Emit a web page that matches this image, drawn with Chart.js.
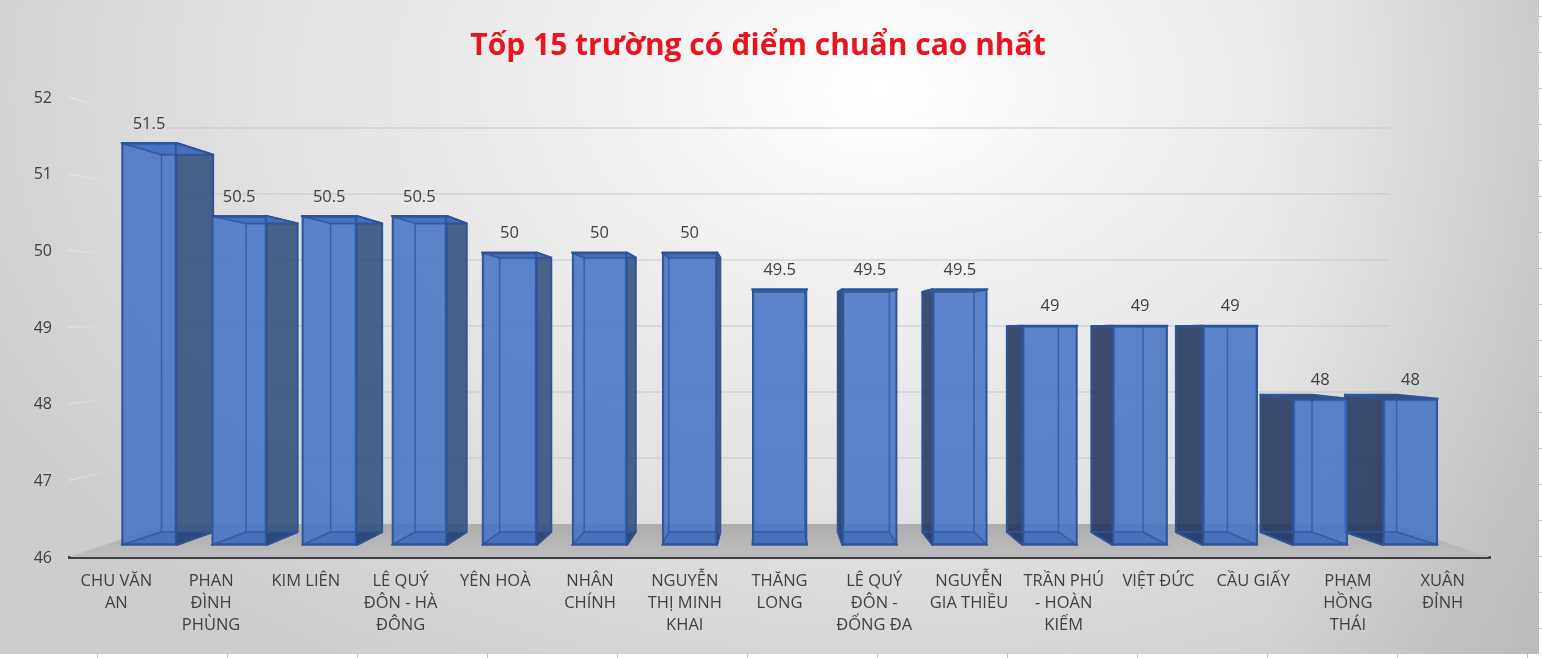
<!DOCTYPE html>
<html>
<head>
<meta charset="utf-8">
<title>Tốp 15 trường có điểm chuẩn cao nhất</title>
<script src="https://cdn.jsdelivr.net/npm/chart.js@4"></script>
<style>
  html, body { margin:0; padding:0; background:#fff; }
  #wrap { position:relative; width:1542px; height:658px; overflow:hidden; background:#fff; }
  #sheet { position:absolute; left:0; top:0; width:1539px; height:654px;
    background:
      linear-gradient(to right,rgba(0,0,0,0) 82%,rgba(0,0,0,.09) 100%),
      radial-gradient(ellipse 1000px 680px at 880px 90px,#ffffff 0%,#f2f2f2 25%,#e2e2e2 60%,#cdcdcd 100%); }
  canvas { position:absolute; left:0; top:0; }
</style>
</head>
<body>
<div id="wrap">
  <div id="sheet"></div>
  <canvas id="chart" width="1542" height="658"></canvas>
</div>
<script>
const categories = [
  ['CHU VĂN','AN'], ['PHAN','ĐÌNH','PHÙNG'], ['KIM LIÊN'], ['LÊ QUÝ','ĐÔN - HÀ','ĐÔNG'], ['YÊN HOÀ'],
  ['NHÂN','CHÍNH'], ['NGUYỄN','THỊ MINH','KHAI'], ['THĂNG','LONG'], ['LÊ QUÝ','ĐÔN -','ĐỐNG ĐA'], ['NGUYỄN','GIA THIỀU'],
  ['TRẦN PHÚ','- HOÀN','KIẾM'], ['VIỆT ĐỨC'], ['CẦU GIẤY'], ['PHẠM','HỒNG','THÁI'], ['XUÂN','ĐỈNH']
];
const scores = [51.5, 50.5, 50.5, 50.5, 50, 50, 50, 49.5, 49.5, 49.5, 49, 49, 49, 48, 48];
const axisTicks = [46, 47, 48, 49, 50, 51, 52];
const titleText = 'Tốp 15 trường có điểm chuẩn cao nhất';

// vanishing point of the fake 3D, and how far back the bars / the wall sit
const VX = 769, VY = 335, BAR_DEPTH = 0.0618;
const WALL_VY = 320, WALL_DEPTH = 0.139;
const backX = (x) => x + BAR_DEPTH * (VX - x);
const backY = (y) => y + BAR_DEPTH * (VY - y);

function poly(ctx, pts, fill, stroke, lw) {
  ctx.beginPath();
  pts.forEach((p, i) => i ? ctx.lineTo(p[0], p[1]) : ctx.moveTo(p[0], p[1]));
  ctx.closePath();
  if (fill) { ctx.fillStyle = fill; ctx.fill(); }
  if (stroke) { ctx.strokeStyle = stroke; ctx.lineWidth = lw || 1; ctx.stroke(); }
}
function line(ctx, x1, y1, x2, y2, color, lw) {
  ctx.beginPath(); ctx.moveTo(x1, y1); ctx.lineTo(x2, y2);
  ctx.strokeStyle = color; ctx.lineWidth = lw; ctx.stroke();
}

const wallPlugin = {
  id: 'wall',
  beforeDatasetsDraw(chart) {
    const { ctx, chartArea: a, scales } = chart;
    const y = scales.y;
    const wx = (x) => x + WALL_DEPTH * (VX - x);
    const wy = (p) => p + WALL_DEPTH * (WALL_VY - p);
    ctx.save();
    // back wall grid + the faint bit on the left wall, it fades out quickly
    const fade = ctx.createLinearGradient(a.left, 0, a.left + 40, 0);
    fade.addColorStop(0, 'rgba(240,240,240,.55)');
    fade.addColorStop(1, 'rgba(240,240,240,0)');
    axisTicks.slice(1).forEach(t => {
      const p = y.getPixelForValue(t);
      line(ctx, wx(a.left), wy(p), wx(a.right), wy(p), 'rgba(190,190,190,.5)', 1.5);
      line(ctx, a.left, p, wx(a.left), wy(p), fade, 1.5);
    });
    // floor
    const p0 = y.getPixelForValue(axisTicks[0]);
    const floor = ctx.createLinearGradient(0, wy(p0), 0, p0);
    floor.addColorStop(0, '#adadad');
    floor.addColorStop(1, '#bdbdbd');
    poly(ctx, [[a.left, p0], [a.right, p0], [wx(a.right), wy(p0)], [wx(a.left), wy(p0)]], floor);
    ctx.restore();
  }
};

const boxPlugin = {
  id: 'box3d',
  // back half of each box goes under the front face the library draws
  beforeDatasetsDraw(chart) {
    const { ctx } = chart;
    ctx.save();
    ctx.lineJoin = 'round';
    chart.getDatasetMeta(0).data.forEach(bar => {
      const l = bar.x - bar.width / 2, r = bar.x + bar.width / 2, t = bar.y, b = bar.base;
      const edge = '#2f5597';
      if (backX(r) > r) {
        poly(ctx, [[r, t], [backX(r), backY(t)], [backX(r), backY(b)], [r, b]], 'rgba(50,78,124,.88)', edge, 2);
      }
      if (backX(l) < l) {
        poly(ctx, [[l, t], [backX(l), backY(t)], [backX(l), backY(b)], [l, b]], 'rgba(28,48,90,.85)', edge, 2);
      }
      const lower = backY(t) < t; // low bars: we look at the underside of the lid
      poly(ctx, [[l, t], [r, t], [backX(r), backY(t)], [backX(l), backY(t)]], lower ? 'rgba(36,62,112,.9)' : 'rgba(68,114,196,.9)', edge, 2);
      poly(ctx, [[l, b], [r, b], [backX(r), backY(b)], [backX(l), backY(b)]], 'rgba(40,66,116,.7)', edge, 1.5);
    });
    ctx.restore();
  },
  afterDatasetsDraw(chart) {
    const { ctx } = chart;
    ctx.save();
    ctx.font = '16.5px "Open Sans", "Noto Sans", sans-serif';
    ctx.textAlign = 'center';
    ctx.textBaseline = 'middle';
    chart.getDatasetMeta(0).data.forEach((bar, i) => {
      const l = bar.x - bar.width / 2, r = bar.x + bar.width / 2, t = bar.y, b = bar.base;
      const seen = 'rgba(47,85,151,.75)';
      // hidden edges showing through the glass
      const inner = backX(r) > r ? backX(l) : backX(r);
      line(ctx, inner, backY(t), inner, backY(b), seen, 1.5);
      line(ctx, backX(l), backY(b), backX(r), backY(b), seen, 1.5);
      line(ctx, backX(l), backY(t), backX(r), backY(t), seen, 1.5);
      line(ctx, backX(r) > r ? l : r, t, inner, backY(t), seen, 1.5);
      line(ctx, backX(r) > r ? l : r, b, inner, backY(b), seen, 1.5);
      ctx.fillStyle = '#404040';
      ctx.fillText(String(scores[i]), bar.x, t - 19);
    });
    ctx.restore();
  }
};

// cell lines of the spreadsheet peeking out behind the screenshot
const sheetEdgePlugin = {
  id: 'sheetEdge',
  beforeDraw(chart) {
    const { ctx } = chart;
    ctx.save();
    ctx.strokeStyle = '#c8c8c8';
    ctx.lineWidth = 1;
    for (let x = 97; x < 1542; x += 130) { ctx.beginPath(); ctx.moveTo(x + .5, 654); ctx.lineTo(x + .5, 658); ctx.stroke(); }
    for (let y = 16; y < 658; y += 36) { ctx.beginPath(); ctx.moveTo(1539, y + .5); ctx.lineTo(1542, y + .5); ctx.stroke(); }
    ctx.restore();
  }
};

const labelFont = { family: '"Open Sans", "Noto Sans", sans-serif', size: 16.5, lineHeight: 22 / 16.5 };

new Chart(document.getElementById('chart'), {
  type: 'bar',
  data: {
    labels: categories,
    datasets: [{
      data: scores.map((v, i) => ({ x: i, y: v })),
      xAxisID: 'xBars',
      yAxisID: 'yFront',
      base: 46,
      barThickness: 55,
      backgroundColor: 'rgba(68,114,196,.86)',
      borderColor: '#2f5597',
      borderWidth: 2,
      borderSkipped: false
    }]
  },
  options: {
    responsive: false,
    animation: false,
    layout: { padding: { right: 26 } },
    plugins: {
      legend: { display: false },
      tooltip: { enabled: false },
      title: {
        display: true,
        text: titleText,
        color: '#e8141f',
        font: { family: '"Open Sans", "Noto Sans", sans-serif', size: 30, weight: 'bold', lineHeight: 1.2 },
        padding: { top: 28, bottom: 33 }
      }
    },
    scales: {
      x: {
        type: 'category',
        position: 'bottom',
        offset: true,
        grid: { display: true, drawOnChartArea: false, drawTicks: false },
        border: { color: '#404040', width: 3 },
        ticks: { color: '#404040', font: labelFont, padding: 13, autoSkip: false, maxRotation: 0, minRotation: 0 },
        afterFit: (s) => { s.height = 101; }
      },
      // the bars sit on their own scales: the front of the box is nearer than the axis
      xBars: { type: 'linear', axis: 'x', display: false, offset: false, min: (69 - 149) / 90.1, max: (1490 - 149) / 90.1 },
      y: {
        type: 'linear',
        position: 'left',
        min: axisTicks[0],
        max: axisTicks[axisTicks.length - 1],
        grid: { display: false },
        border: { display: false },
        ticks: { stepSize: 1, color: '#404040', font: { family: labelFont.family, size: 16 }, padding: 9, labelOffset: 1 },
        afterFit: (s) => { s.width = 69; }
      },
      yFront: {
        type: 'linear',
        position: 'right',
        min: 46 - (557 - 545) / 73.1,
        max: 46 + (545 - 97) / 73.1,
        grid: { display: false },
        border: { display: false },
        ticks: { display: false },
        afterFit: (s) => { s.width = 26; }
      }
    }
  },
  plugins: [sheetEdgePlugin, wallPlugin, boxPlugin]
});
</script>
</body>
</html>
